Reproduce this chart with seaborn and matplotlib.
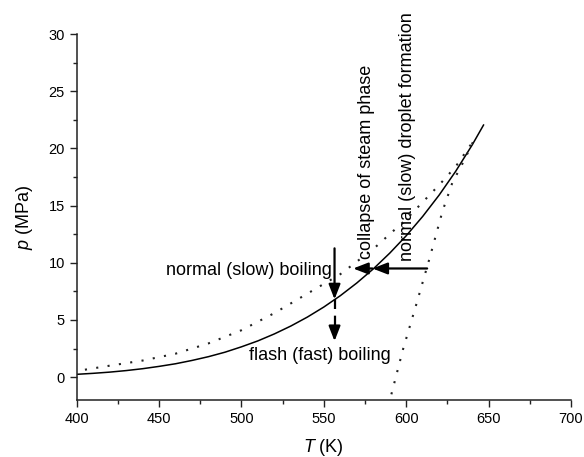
import numpy as np
import pandas as pd
import matplotlib
matplotlib.use("Agg")
import matplotlib.pyplot as plt
from matplotlib.ticker import MultipleLocator, AutoMinorLocator
import seaborn as sns

# Saturation line of water (solid)
sat_T = [400, 410, 420, 430, 440, 450, 460, 470, 480, 490, 500, 510, 520,
         530, 540, 550, 560, 570, 580, 590, 600, 610, 620, 630, 640, 647]
sat_p = [0.246, 0.333, 0.438, 0.573, 0.737, 0.94, 1.17, 1.46, 1.79, 2.18,
         2.65, 3.17, 3.78, 4.47, 5.25, 6.13, 7.12, 8.23, 9.46, 10.84, 12.36,
         14.05, 15.92, 17.99, 20.29, 22.06]

# Vapour-side spinodal (upper dotted curve)
vap_T = [405, 420, 440, 460, 480, 500, 520, 540, 560, 580, 600, 620, 630, 641]
vap_p = [0.65, 1.0, 1.45, 2.05, 2.95, 4.1, 5.6, 7.3, 9.0, 11.2, 13.8, 16.8, 18.4, 20.7]

# Liquid-side spinodal (steep dotted curve)
liq_T = [591, 598, 606, 614, 622, 628, 635, 641]
liq_p = [-1.5, 2.4, 6.3, 10.3, 14.5, 17.0, 18.9, 20.7]

# Process paths
boil_T = 556.5
boil_p = [11.26, 6.8, 3.15]      # start, saturation crossing, end of flash path
cond_p = 9.5
cond_T = [612.7, 579.5, 567.8]   # start, saturation crossing, spinodal

sns.set_theme(style="ticks")
plt.rcParams["font.family"] = ["Liberation Sans", "DejaVu Sans"]
plt.rcParams["mathtext.fontset"] = "custom"
plt.rcParams["mathtext.it"] = "Liberation Sans:italic"
plt.rcParams["mathtext.rm"] = "Liberation Sans"
plt.rcParams["text.color"] = "black"
plt.rcParams["axes.labelcolor"] = "black"
plt.rcParams["xtick.color"] = "black"
plt.rcParams["ytick.color"] = "black"

fig = plt.figure(figsize=(5.84, 4.57), dpi=100)
ax = fig.add_axes([0.1313, 0.1247, 0.8464, 0.8009])

sat = pd.DataFrame({"T": sat_T, "p": sat_p})
vap = pd.DataFrame({"T": vap_T, "p": vap_p})
liq = pd.DataFrame({"T": liq_T, "p": liq_p})

sns.lineplot(data=sat, x="T", y="p", ax=ax, color="black", lw=1.1, sort=False)
dot = (0, (1, 4.5))
sns.lineplot(data=vap, x="T", y="p", ax=ax, color="#222222", lw=1.5,
             linestyle=dot, sort=False)
sns.lineplot(data=liq, x="T", y="p", ax=ax, color="#222222", lw=1.5,
             linestyle=dot, sort=False)

head = dict(arrowstyle="-|>,head_length=0.9,head_width=0.35", color="black",
            lw=1.6, shrinkA=0, shrinkB=0, mutation_scale=10)

# Boiling: solid down to saturation, dashed (flash) below
ax.annotate("", xy=(boil_T, boil_p[1]), xytext=(boil_T, boil_p[0]), arrowprops=head)
ax.plot([boil_T, boil_T], [boil_p[1], boil_p[2] + 0.6], color="black", lw=1.6,
        linestyle=(0, (4.5, 3)))
ax.annotate("", xy=(boil_T, boil_p[2]), xytext=(boil_T, boil_p[2] + 0.9),
            arrowprops=head)

# Condensation: to saturation, then to spinodal
ax.annotate("", xy=(cond_T[1], cond_p), xytext=(cond_T[0], cond_p), arrowprops=head)
ax.annotate("", xy=(cond_T[2], cond_p), xytext=(cond_T[1], cond_p), arrowprops=head)

fs = 13
ax.text(554.6, 9.3, "normal (slow) boiling", fontsize=fs, ha="right", va="center")
ax.text(504.4, 1.85, "flash (fast) boiling", fontsize=fs, ha="left", va="center")
ax.text(575.9, 10.3, "collapse of steam phase", fontsize=fs, rotation=90,
        ha="center", va="bottom")
ax.text(600.5, 10.15, "normal (slow) droplet formation", fontsize=fs, rotation=90,
        ha="center", va="bottom")

ax.set_xlim(400, 700)
ax.set_ylim(-2, 30)
ax.xaxis.set_major_locator(MultipleLocator(50))
ax.yaxis.set_major_locator(MultipleLocator(5))
ax.xaxis.set_minor_locator(AutoMinorLocator(2))
ax.yaxis.set_minor_locator(AutoMinorLocator(2))
ax.tick_params(which="major", length=5, width=1, labelsize=10.5, color="#222222",
               labelcolor="black")
ax.tick_params(which="minor", length=3, width=1, color="#222222")
ax.set_xlabel(r"$T$ (K)", fontsize=fs, labelpad=8)
ax.set_ylabel(r"$p$ (MPa)", fontsize=fs, labelpad=10)
sns.despine(ax=ax)
for s in ("left", "bottom"):
    ax.spines[s].set_linewidth(1.1)
    ax.spines[s].set_color("#222222")

fig.savefig("out.png", dpi=100)
